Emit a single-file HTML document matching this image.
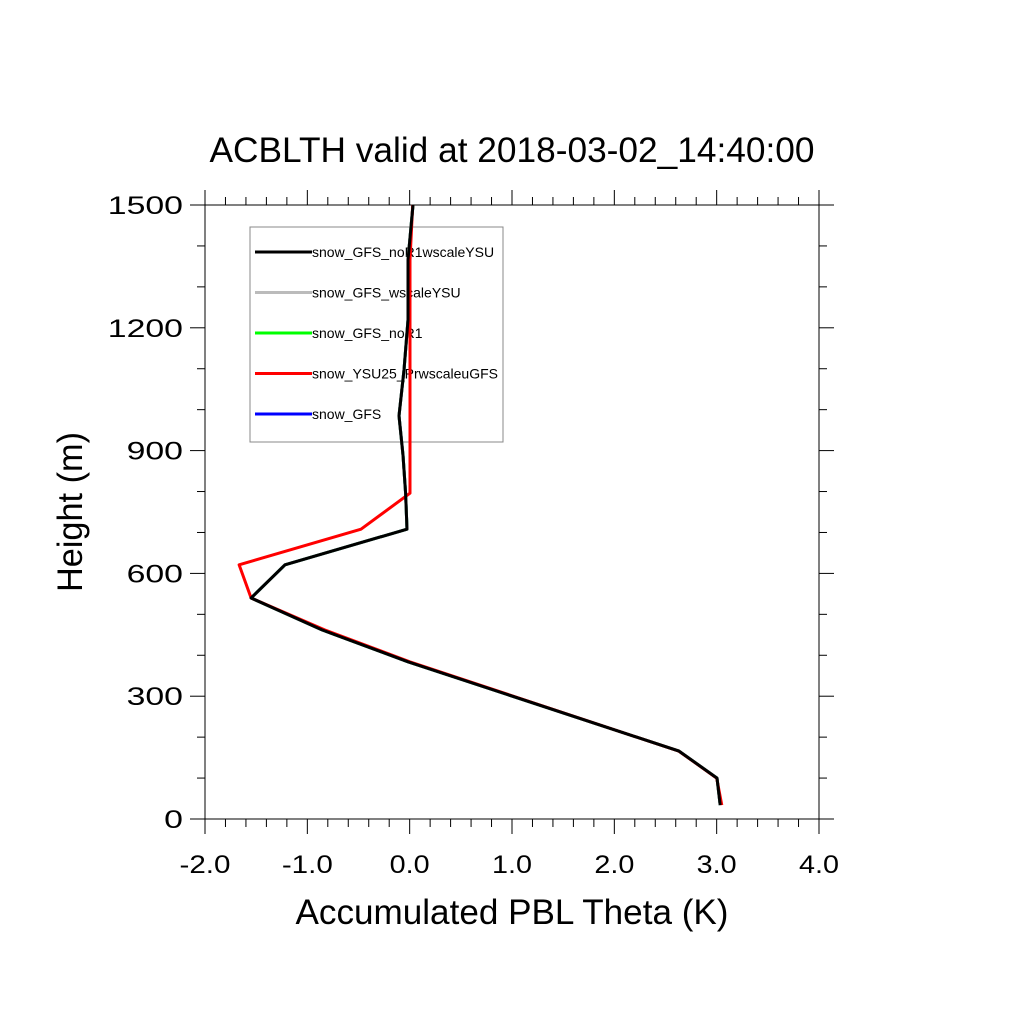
<!DOCTYPE html>
<html><head><meta charset="utf-8"><style>
body{margin:0;background:#fff}
svg text{font-family:"Liberation Sans",sans-serif}
</style></head><body>
<svg id="c" width="1024" height="1024" xmlns="http://www.w3.org/2000/svg">
<rect width="1024" height="1024" fill="#fff"/>
<text x="512" y="162" font-size="35" text-anchor="middle" textLength="605" lengthAdjust="spacingAndGlyphs">ACBLTH valid at 2018-03-02_14:40:00</text>
<g id="axes"></g>
<rect x="250" y="227" width="253" height="215" fill="#fff" stroke="#888" stroke-width="1"/>
<g id="legend"></g>
<g id="series"></g>
<text x="512" y="924" font-size="35" text-anchor="middle" textLength="433" lengthAdjust="spacingAndGlyphs">Accumulated PBL Theta (K)</text>
<text transform="translate(82,512) rotate(-90)" font-size="35" text-anchor="middle" textLength="160" lengthAdjust="spacingAndGlyphs">Height (m)</text>
</svg>
<script>
const heights=[1500,1366,1219,1097,985,889,796,708,621,540,462,384,166,100,34];
const blackVals=[0.033,-0.016,-0.016,-0.055,-0.104,-0.065,-0.04,-0.026,-1.218,-1.55,-0.857,-0.016,2.632,3.003,3.035];
const redVals=[0.03,0.003,0.003,0.003,0.003,0.003,0.003,-0.476,-1.667,-1.55,-0.83,0.0,2.63,3.0,3.05];
const xTicks=[-2,-1,0,1,2,3,4];
const xTickLabels=["-2.0","-1.0","0.0","1.0","2.0","3.0","4.0"];
const yTicks=[0,300,600,900,1200,1500];
const seriesNames=["snow_GFS_noR1wscaleYSU","snow_GFS_wscaleYSU","snow_GFS_noR1","snow_YSU25_PrwscaleuGFS","snow_GFS"];
const seriesColors=["#000","#bbb","#0f0","#f00","#00f"];
const X0=205,X1=819,Y0=819,Y1=205;
const sx=v=>X0+(v+2)/6*(X1-X0);
const sy=h=>Y0-h/1500*(Y0-Y1);
const NS="http://www.w3.org/2000/svg";
function mk(t,a,p){const e=document.createElementNS(NS,t);for(const k in a)e.setAttribute(k,a[k]);p.appendChild(e);return e;}
const ax=document.getElementById('axes');
const frame=mk('rect',{x:X0,y:Y1,width:X1-X0,height:Y0-Y1,fill:'none',stroke:'#000','stroke-width':1},ax);


for(let i=0;i<=30;i++){const v=-2+i*0.2;const x=sx(v);const L=(i%5==0)?15:8;
 mk('line',{x1:x,y1:Y0,x2:x,y2:Y0+L,stroke:'#000'},ax);
 mk('line',{x1:x,y1:Y1,x2:x,y2:Y1-L,stroke:'#000'},ax);}
for(let i=0;i<=15;i++){const h=i*100;const y=sy(h);const L=(i%3==0)?15:8;
 mk('line',{x1:X0,y1:y,x2:X0-L,y2:y,stroke:'#000'},ax);
 mk('line',{x1:X1,y1:y,x2:X1+L,y2:y,stroke:'#000'},ax);}
xTicks.forEach((v,i)=>{const s=xTickLabels[i];
 const t=mk('text',{x:sx(v),y:873,'font-size':25,'text-anchor':'middle',textLength:(s[0]=='-'?51:40),lengthAdjust:'spacingAndGlyphs'},ax);t.textContent=s;
 
 });
yTicks.forEach(h=>{const s=String(h);
 const t=mk('text',{x:183,y:sy(h)+9,'font-size':25,'text-anchor':'end',textLength:s.length*18.8,lengthAdjust:'spacingAndGlyphs'},ax);t.textContent=s;
 
 });
const lg=document.getElementById('legend');
seriesNames.forEach((n,i)=>{const y=252+i*40.5;
 const l=mk('line',{x1:255,y1:y,x2:312,y2:y,stroke:seriesColors[i],'stroke-width':3},lg);
 
 
 const t=mk('text',{x:312,y:y+5,'font-size':14},lg);t.textContent=n;
 
 });
const sg=document.getElementById('series');
const seriesVals=[blackVals,blackVals,blackVals,redVals,blackVals];
[4,2,1,3,0].forEach(k=>{const pts=heights.map((h,i)=>sx(seriesVals[k][i]).toFixed(1)+','+sy(h).toFixed(1)).join(' ');
 const p=mk('polyline',{points:pts,fill:'none',stroke:seriesColors[k],'stroke-width':3,'stroke-linejoin':'round'},sg);
 
 });
</script>
</body></html>
